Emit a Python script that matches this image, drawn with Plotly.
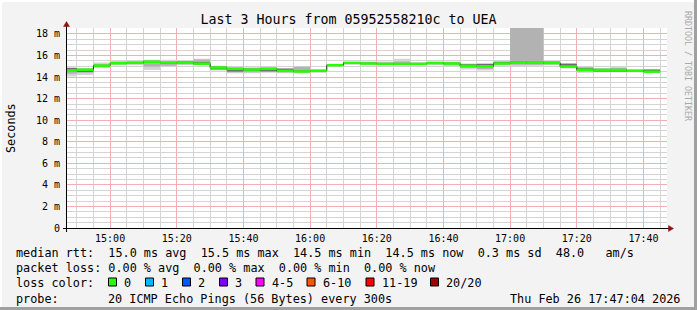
import plotly.graph_objects as go
import pandas as pd

# ---------------- data ----------------
title_text = "Last 3 Hours from 05952558210c to UEA"
seg_start = "2026-02-26 14:45"
seg_end = "2026-02-26 17:45"
view_start = "2026-02-26 14:47:04"
view_end = "2026-02-26 17:47:04"

# median rtt per 5-minute step (ms)
median = [14.62, 14.68, 15.06, 15.28, 15.32, 15.42, 15.34, 15.32, 15.24, 14.88,
          14.76, 14.70, 14.76, 14.58, 14.52, 14.58, 15.10, 15.32, 15.26, 15.22,
          15.22, 15.22, 15.30, 15.26, 15.04, 15.00, 15.26, 15.36, 15.32, 15.30,
          14.98, 14.68, 14.66, 14.66, 14.58, 14.50]
# smoke: outer (light) band
outer_lo = [14.05, 14.20, 14.85, 15.10, 15.10, 14.65, 14.95, 15.10, 15.10, 14.60,
            14.35, 14.35, 14.40, 14.35, 14.35, 14.40, 14.95, 15.15, 15.10, 15.10,
            15.10, 15.10, 15.10, 14.95, 14.70, 14.60, 15.05, 15.00, 15.05, 15.10,
            14.80, 14.40, 14.45, 14.45, 14.45, 14.45]
outer_hi = [14.90, 14.85, 15.35, 15.50, 15.55, 15.60, 15.60, 15.45, 15.70, 15.05,
            14.90, 14.90, 14.90, 14.85, 15.00, 14.70, 15.20, 15.40, 15.45, 15.45,
            15.70, 15.35, 15.45, 15.45, 15.25, 15.30, 15.55, 19.00, 19.00, 15.55,
            15.30, 15.00, 14.85, 15.00, 14.70, 14.75]
# smoke: middle band
mid_lo = [14.30, 14.40, 14.95, 15.18, 15.20, 14.95, 15.05, 15.18, 15.15, 14.68,
          14.45, 14.45, 14.48, 14.45, 14.42, 14.48, 15.02, 15.22, 15.15, 15.15,
          15.15, 15.15, 15.18, 15.10, 14.85, 14.75, 15.15, 15.15, 15.15, 15.18,
          14.88, 14.50, 14.50, 14.50, 14.50, 14.48]
mid_hi = [14.85, 14.80, 15.22, 15.42, 15.45, 15.55, 15.45, 15.44, 15.62, 15.00,
          14.88, 14.85, 14.88, 14.80, 14.95, 14.68, 15.18, 15.40, 15.40, 15.35,
          15.45, 15.32, 15.40, 15.38, 15.20, 15.22, 15.45, 19.00, 19.00, 15.45,
          15.28, 14.90, 14.80, 14.85, 14.68, 14.72]
# smoke: dark core band
dark_lo = [14.55, 14.48, 15.00, 15.24, 15.26, 15.30, 15.25, 15.28, 15.20, 14.72,
           14.52, 14.58, 14.55, 14.55, 14.48, 14.52, 15.05, 15.28, 15.20, 15.18,
           15.18, 15.18, 15.24, 15.20, 14.98, 14.95, 15.20, 15.28, 15.25, 15.24,
           14.92, 14.60, 14.52, 14.52, 14.52, 14.50]
dark_hi = [14.84, 14.70, 15.10, 15.36, 15.38, 15.50, 15.40, 15.44, 15.40, 14.95,
           14.80, 14.76, 14.82, 14.78, 14.60, 14.64, 15.15, 15.38, 15.32, 15.28,
           15.28, 15.28, 15.36, 15.32, 15.18, 15.20, 15.40, 15.45, 15.42, 15.42,
           15.20, 14.82, 14.72, 14.72, 14.66, 14.68]

y_tickvals = [0, 2, 4, 6, 8, 10, 12, 14, 16, 18]
y_ticktext = ["0", "2 m", "4 m", "6 m", "8 m", "10 m", "12 m", "14 m", "16 m", "18 m"]
y_max = 18.55

legend_rtt = "median rtt:  15.0 ms avg  15.5 ms max  14.5 ms min  14.5 ms now  0.3 ms sd  48.0   am/s"
legend_loss = "packet loss: 0.00 % avg  0.00 % max  0.00 % min  0.00 % now"
legend_color_head = "loss color:"
loss_labels = ["0", "1", "2", "3", "4-5", "6-10", "11-19", "20/20"]
loss_colors = ["#26ff00", "#00b8ff", "#0059ff", "#7e00ff", "#ff00ff", "#ff5500", "#ff0000", "#a10000"]
loss_box_px = [108.5, 145.5, 182.5, 219.5, 256, 307, 366, 430.5]
probe_head = "probe:"
probe_text = "20 ICMP Echo Pings (56 Bytes) every 300s"
date_text = "Thu Feb 26 17:47:04 2026"
watermark = "RRDTOOL / TOBI OETIKER"

# ---------------- geometry ----------------
W, H = 697, 310
L, R, T, B = 67, 30, 28, 82
PW, PH = W - L - R, H - T - B
MONO = "DejaVu Sans Mono"


def px(xp):
    return (xp - L) / PW


def py(yp):
    return (H - B - yp) / PH


def nb(s):
    return s.replace(" ", "\u00a0")


edges = pd.date_range(seg_start, seg_end, freq="5min")


def step(vals):
    return list(vals) + [vals[-1]]


fig = go.Figure()

band_defs = [(outer_lo, outer_hi, "#d4d4d4"),
             (mid_lo, mid_hi, "#b2b2b2"),
             (dark_lo, dark_hi, "#6c6c6c")]
for lo, hi, col in band_defs:
    fig.add_trace(go.Scatter(x=edges, y=step(lo), mode="lines",
                             line=dict(width=0, shape="hv"),
                             hoverinfo="skip", showlegend=False))
    fig.add_trace(go.Scatter(x=edges, y=step(hi), mode="lines",
                             line=dict(width=0, shape="hv"),
                             fill="tonexty", fillcolor=col,
                             hoverinfo="skip", showlegend=False))

# dark step connector of the median
fig.add_trace(go.Scatter(x=edges, y=step(median), mode="lines",
                         line=dict(width=1, color="#1a1a1a", shape="hv"),
                         hoverinfo="skip", showlegend=False))
# green horizontal median segments
gx, gy = [], []
for i, v in enumerate(median):
    gx += [edges[i], edges[i + 1], None]
    gy += [v, v, None]
fig.add_trace(go.Scatter(x=gx, y=gy, mode="lines",
                         line=dict(width=2.5, color=loss_colors[0]),
                         hoverinfo="skip", showlegend=False))

major_grid = "#f4b0b0"
minor_grid = "#d4d4d4"

fig.update_xaxes(range=[view_start, view_end], type="date",
                 tickformat="%H:%M", dtick=1200000, tick0="2026-02-26 15:00",
                 showgrid=True, gridcolor=major_grid, gridwidth=1,
                 minor=dict(dtick=300000, tick0="2026-02-26 15:00", showgrid=True,
                            gridcolor=minor_grid, gridwidth=1),
                 showline=False, zeroline=False, ticks="",
                 tickfont=dict(family=MONO, size=10, color="#000"),
                 ticklabelstandoff=3, fixedrange=True)
fig.update_yaxes(range=[0, y_max], tickmode="linear", tick0=0, dtick=2,
                 showgrid=True, gridcolor=major_grid, gridwidth=1,
                 minor=dict(dtick=0.5, tick0=0, showgrid=True,
                            gridcolor=minor_grid, gridwidth=1),
                 showline=False, zeroline=False, ticks="",
                 tickfont=dict(family=MONO, size=10, color="#000"),
                 showticklabels=False, fixedrange=True)

shapes = []
# frame (3D border)
shapes.append(dict(type="rect", xref="paper", yref="paper", x0=px(694), x1=px(697), y0=py(0), y1=py(310),
                   fillcolor="#a0a0a0", line=dict(width=0), layer="above"))
shapes.append(dict(type="rect", xref="paper", yref="paper", x0=px(0), x1=px(697), y0=py(307), y1=py(310),
                   fillcolor="#a0a0a0", line=dict(width=0), layer="above"))
shapes.append(dict(type="rect", xref="paper", yref="paper", x0=px(0), x1=px(694), y0=py(0), y1=py(2),
                   fillcolor="#ffffff", line=dict(width=0), layer="above"))
shapes.append(dict(type="rect", xref="paper", yref="paper", x0=px(0), x1=px(2), y0=py(0), y1=py(307),
                   fillcolor="#ffffff", line=dict(width=0), layer="above"))
# axes
shapes.append(dict(type="line", xref="paper", yref="paper", x0=px(66.5), x1=px(66.5), y0=py(232), y1=py(25),
                   line=dict(color="#000", width=1), layer="above"))
shapes.append(dict(type="line", xref="paper", yref="paper", x0=px(63), x1=px(669), y0=py(228.5), y1=py(228.5),
                   line=dict(color="#000", width=1), layer="above"))
arrow_col = "#8e1414"
shapes.append(dict(type="path", xref="paper", yref="paper", layer="above",
                   path="M {} {} L {} {} L {} {} Z".format(px(63.5), py(26.5), px(66.5), py(21.5), px(69.5), py(26.5)),
                   fillcolor=arrow_col, line=dict(color=arrow_col, width=0.5)))
shapes.append(dict(type="path", xref="paper", yref="paper", layer="above",
                   path="M {} {} L {} {} L {} {} Z".format(px(668.5), py(225.5), px(673.5), py(228.5), px(668.5), py(231.5)),
                   fillcolor=arrow_col, line=dict(color=arrow_col, width=0.5)))
# loss colour boxes
for bx, col in zip(loss_box_px, loss_colors):
    shapes.append(dict(type="rect", xref="paper", yref="paper", layer="above",
                       x0=px(bx), x1=px(bx + 8), y0=py(278), y1=py(286),
                       fillcolor=col, line=dict(color="#000", width=1)))

ann = []


def text(s, xp, yp, size=11.8, anchor="left", color="#000", angle=0, family=MONO):
    ann.append(dict(text=nb(s), x=px(xp), y=py(yp), xref="paper", yref="paper",
                    xanchor=anchor, yanchor="middle", showarrow=False, textangle=angle,
                    font=dict(family=family, size=size, color=color), borderpad=0))


# y tick labels (right-aligned next to the axis)
for v, lab in zip(y_tickvals, y_ticktext):
    ann.append(dict(text=nb(lab), x=0, xshift=-6, y=v, xref="paper", yref="y",
                    xanchor="right", yanchor="middle", showarrow=False,
                    font=dict(family=MONO, size=10, color="#000"), borderpad=0))

text(legend_rtt, 15, 252.5)
text(legend_loss, 15, 268)
text(legend_color_head, 15, 283)
for bx, lab in zip(loss_box_px, loss_labels):
    text(lab, bx + 14.5, 283)
text(probe_head, 15, 298.5)
text(probe_text, 107, 298.5)
text(date_text, 681, 298.5, anchor="right")
text("Seconds", 11, 128, anchor="center", angle=-90)
text(watermark, 688, 66, size=8.3, anchor="center", color="#aaaaaa", angle=90)

fig.update_layout(
    width=W, height=H,
    margin=dict(l=L, r=R, t=T, b=B, pad=0),
    paper_bgcolor="#f3f3f3", plot_bgcolor="#ffffff",
    showlegend=False,
    title=dict(text=title_text, x=0.5, xref="container", xanchor="center",
               y=1 - 19 / H, yref="container", yanchor="middle",
               font=dict(family=MONO, size=13.3, color="#000")),
    shapes=shapes, annotations=ann,
)

fig.write_html("out.html", config=dict(displayModeBar=False, staticPlot=True))
